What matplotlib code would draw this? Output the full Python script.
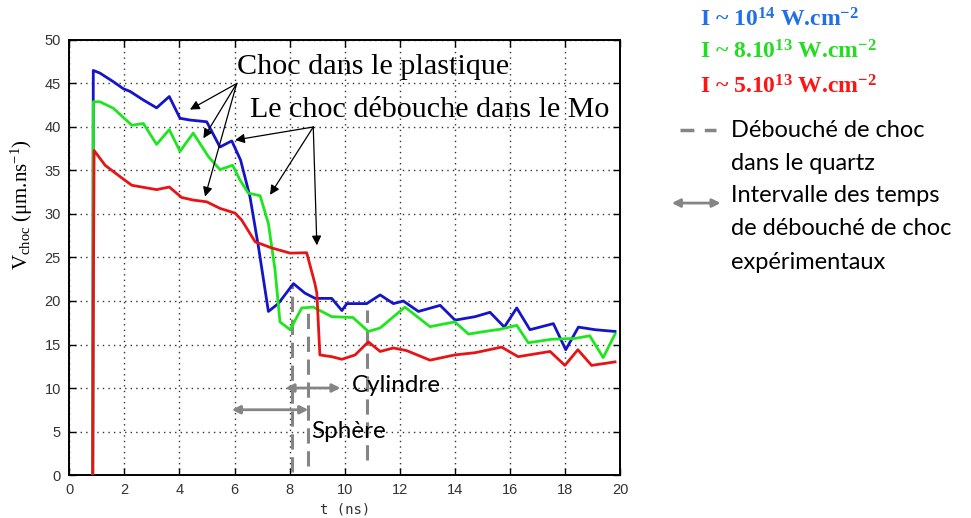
import matplotlib
matplotlib.use("Agg")
import matplotlib.pyplot as plt
from matplotlib.lines import Line2D
from matplotlib.patches import FancyArrowPatch

plt.rcParams['mathtext.fontset'] = 'custom'
plt.rcParams['mathtext.rm'] = 'Liberation Serif'
plt.rcParams['mathtext.it'] = 'Liberation Serif:italic'
plt.rcParams['mathtext.bf'] = 'Liberation Serif:bold'

# ---- data ----
t_blue = [0.85, 0.87, 1.11, 1.60, 1.96, 2.20, 2.69, 3.17, 3.63, 4.02, 4.38, 4.99, 5.47, 5.90,
          6.22, 6.56, 6.87, 7.23, 7.59, 8.14, 8.56, 8.93, 9.53, 9.90, 10.08, 10.8, 11.29, 11.77,
          12.13, 12.68, 13.47, 14.01, 14.74, 15.28, 15.8, 16.25, 16.73, 17.58, 18.03, 18.49,
          19.1, 19.82]
v_blue = [0, 46.5, 46.2, 45.2, 44.4, 44.1, 43.1, 42.2, 43.5, 41.0, 40.8, 40.6, 37.7, 38.4,
          36.2, 32.0, 26.2, 18.8, 19.7, 22.0, 20.9, 20.3, 20.3, 18.9, 19.7, 19.7, 20.7, 19.7,
          20.0, 18.8, 19.5, 17.8, 18.2, 18.7, 17.0, 19.2, 16.7, 17.4, 14.4, 17.0, 16.7, 16.5]

t_green = [0.85, 0.87, 1.11, 1.60, 2.27, 2.69, 3.17, 3.63, 4.02, 4.50, 5.05, 5.47, 5.93, 6.2,
           6.5, 6.93, 7.23, 7.47, 7.65, 8.02, 8.44, 8.86, 9.53, 10.3, 10.86, 11.29, 12.19, 13.1,
           14.0, 14.5, 15.1, 15.64, 16.25, 16.67, 17.52, 18.37, 18.9, 19.39, 19.82]
v_green = [0, 42.9, 42.9, 42.15, 40.2, 40.4, 38.0, 39.7, 37.2, 39.3, 36.6, 35.1, 35.6, 33.9,
           32.4, 32.1, 28.9, 23.6, 17.6, 16.7, 19.2, 19.3, 18.2, 18.1, 16.5, 16.9, 19.3, 17.05,
           17.6, 16.2, 16.5, 16.75, 17.2, 15.2, 15.6, 15.7, 16.0, 13.5, 16.2]

t_red = [0.85, 0.87, 0.90, 1.30, 1.84, 2.27, 2.81, 3.17, 3.63, 4.08, 4.50, 4.99, 5.47, 6.02,
         6.26, 6.75, 7.35, 8.02, 8.62, 8.92, 8.99, 9.10, 9.53, 9.90, 10.38, 10.86, 11.29, 11.77,
         12.25, 13.1, 14.0, 14.74, 15.7, 16.3, 17.46, 18.0, 18.47, 18.97, 19.82]
v_red = [0, 18.7, 37.3, 35.6, 34.3, 33.3, 33.0, 32.8, 33.1, 31.9, 31.6, 31.4, 30.65, 30.1,
         29.3, 26.8, 26.1, 25.5, 25.55, 22.0, 20.9, 13.8, 13.6, 13.3, 13.8, 15.3, 14.2, 14.6,
         14.3, 13.2, 13.8, 14.06, 14.7, 13.6, 14.2, 12.6, 14.4, 12.6, 13.0]

quartz_t = [8.1, 8.68, 10.8]
quartz_top = [21.8, 19.3, 19.0]
quartz_bottom = [0.3, 1.0, 1.7]

interval_labels = ["Sphère", "Cylindre"]
interval_start = [5.9, 7.85]
interval_end = [8.68, 9.85]
interval_v = [7.5, 10.0]

legend_labels = [r"I ~ 10$^{\mathbf{14}}$ W.cm$^{\mathbf{-2}}$",
                 r"I ~ 8.10$^{\mathbf{13}}$ W.cm$^{\mathbf{-2}}$",
                 r"I ~ 5.10$^{\mathbf{13}}$ W.cm$^{\mathbf{-2}}$"]

xticks = [0, 2, 4, 6, 8, 10, 12, 14, 16, 18, 20]
yticks = [0, 5, 10, 15, 20, 25, 30, 35, 40, 45, 50]

# annotation arrows
plast_origin = (6.08, 45.0)
plast_targets = [(4.38, 42.0), (4.87, 38.7), (4.93, 32.0)]
mo_origin = (8.86, 40.0)
mo_targets = [(6.02, 38.5), (7.29, 32.2), (8.99, 26.4)]

# ---- figure ----
fig = plt.figure(figsize=(9.71, 5.18), dpi=100)
ax = fig.add_axes([0.0714, 0.083, 0.5671, 0.8398])

c_blue = '#1414c8'
c_green = '#1ee61e'
c_red = '#e61414'
gray = '#858585'

ax.plot(t_blue, v_blue, color=c_blue, lw=2.0, zorder=3)
ax.plot(t_green, v_green, color=c_green, lw=2.0, zorder=4)
ax.plot(t_red, v_red, color=c_red, lw=2.0, zorder=5)

for t, top, bot in zip(quartz_t, quartz_top, quartz_bottom):
    ax.plot([t, t], [bot, top], color=gray, lw=2.2, dashes=(5, 2.5), zorder=2)

for lab, s, e, v in zip(interval_labels, interval_start, interval_end, interval_v):
    ax.annotate("", xy=(e, v), xytext=(s, v),
                arrowprops=dict(arrowstyle='<|-|>', color=gray, lw=2.0,
                                mutation_scale=12, shrinkA=0, shrinkB=0), zorder=6)

ax.text(10.25, 10.3, "Cylindre", fontsize=17.5, family='Lato', va='center', ha='left', zorder=7)
ax.text(8.8, 5.0, "Sphère", fontsize=17.5, family='Lato', va='center', ha='left', zorder=7)

for tgt in plast_targets:
    ax.annotate("", xy=tgt, xytext=plast_origin,
                arrowprops=dict(arrowstyle='-|>', color='black', lw=0.9,
                                mutation_scale=14, shrinkA=0, shrinkB=0), zorder=8)
for tgt in mo_targets:
    ax.annotate("", xy=tgt, xytext=mo_origin,
                arrowprops=dict(arrowstyle='-|>', color='black', lw=0.9,
                                mutation_scale=14, shrinkA=0, shrinkB=0), zorder=8)

ax.text(6.1, 46.9, "Choc dans le plastique", fontsize=21.7, family='Liberation Serif',
        ha='left', va='center', zorder=9)
ax.text(6.55, 42.0, "Le choc débouche dans le Mo", fontsize=21.6, family='Liberation Serif',
        ha='left', va='center', zorder=9)

ax.set_xlim(0, 20)
ax.set_ylim(0, 50)
ax.set_xticks(xticks)
ax.set_yticks(yticks)
ax.tick_params(direction='in', top=True, right=True, length=5, width=1,
               labelsize=10.5, labelcolor='#333333', pad=6)
for lab in ax.get_xticklabels() + ax.get_yticklabels():
    lab.set_family('Liberation Sans')
ax.grid(True, linestyle=(0, (1, 3)), color='#333333', lw=1.0)
for sp in ax.spines.values():
    sp.set_linewidth(1.4)

ax.set_xlabel("t (ns)", fontsize=10, family='DejaVu Sans Mono', color='#333333', labelpad=4)
fig.text(0.0227, 0.606, r"V$_{\mathrm{choc}}$ ($\mathrm{\mu}$m.ns$^{-1}$)", rotation=90,
         fontsize=15, family='Liberation Serif', ha='center', va='center')

# right-side legend
leg_colors = ['#2070e8', '#22dd22', '#ff1414']
leg_y = [0.961, 0.900, 0.833]
for txt, col, y in zip(legend_labels, leg_colors, leg_y):
    fig.text(0.721, y, txt, color=col, fontsize=17, family='Liberation Serif',
             fontweight='bold', ha='left', va='center')

fig.add_artist(Line2D([0.700, 0.737], [0.749, 0.749], color=gray, lw=2.5,
                      dashes=(4, 3), transform=fig.transFigure))
fig.add_artist(FancyArrowPatch((0.689, 0.608), (0.745, 0.608),
               arrowstyle='<|-|>', color=gray, lw=2.0, mutation_scale=12,
               transform=fig.transFigure))
right_lines = ["Débouché de choc", "dans le quartz", "Intervalle des temps",
               "de débouché de choc", "expérimentaux"]
right_y = [0.749, 0.685, 0.622, 0.558, 0.494]
for txt, y in zip(right_lines, right_y):
    fig.text(0.753, y, txt, fontsize=17, family='Lato', ha='left', va='center')

fig.savefig("out.png", dpi=100)
